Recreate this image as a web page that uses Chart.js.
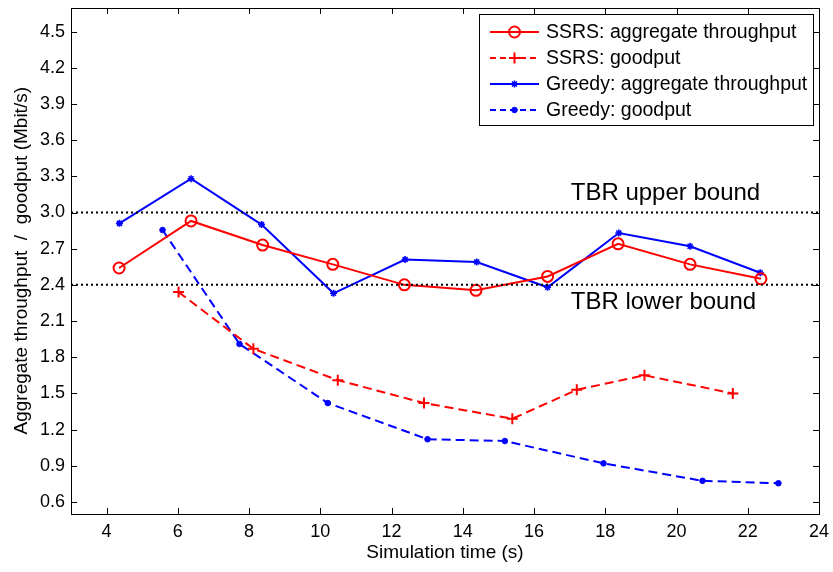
<!DOCTYPE html>
<html>
<head>
<meta charset="utf-8">
<script src="https://cdn.jsdelivr.net/npm/chart.js@4/dist/chart.umd.min.js"></script>
<style>
html,body{margin:0;padding:0;background:#fff;}
#wrap{width:833px;height:572px;position:relative;}
</style>
</head>
<body>
<div id="wrap"><canvas id="c" width="833" height="572"></canvas></div>
<script>
// ---- data ----
const seriesNames = ['SSRS: aggregate throughput', 'SSRS: goodput', 'Greedy: aggregate throughput', 'Greedy: goodput'];
const xSSRSAgg = [4.35, 6.37, 8.38, 10.35, 12.36, 14.37, 16.38, 18.36, 20.38, 22.37];
const ySSRSAgg = [2.54, 2.93, 2.73, 2.57, 2.40, 2.355, 2.47, 2.74, 2.57, 2.45];
const xSSRSGood = [6.02, 8.12, 10.49, 12.91, 15.39, 17.20, 19.10, 21.58];
const ySSRSGood = [2.34, 1.87, 1.61, 1.42, 1.29, 1.53, 1.65, 1.50];
const xGreedyAgg = [4.36, 6.37, 8.35, 10.37, 12.38, 14.39, 16.38, 18.38, 20.38, 22.35];
const yGreedyAgg = [2.91, 3.28, 2.90, 2.33, 2.61, 2.59, 2.38, 2.83, 2.72, 2.50];
const xGreedyGood = [5.57, 7.73, 10.21, 13.01, 15.18, 17.95, 20.73, 22.86];
const yGreedyGood = [2.855, 1.91, 1.42, 1.12, 1.105, 0.92, 0.775, 0.755];
const tbrUpper = 3.0;
const tbrLower = 2.4;
const tbrLabels = ['TBR upper bound', 'TBR lower bound'];
const xTicks = [4, 6, 8, 10, 12, 14, 16, 18, 20, 22, 24];
const yTicks = [0.6, 0.9, 1.2, 1.5, 1.8, 2.1, 2.4, 2.7, 3.0, 3.3, 3.6, 3.9, 4.2, 4.5];
const xRange = [3, 24];
const yRange = [0.5, 4.7];
const xTitle = 'Simulation time (s)';
const yTitle = 'Aggregate throughput  /  goodput (Mbit/s)';

const pts = (xs, ys) => xs.map((x, i) => ({x: x, y: ys[i]}));
const FONT = '"Liberation Sans", Arial, sans-serif';
const RED = '#ff0000', BLUE = '#0000ff';

const styles = [
  {color: RED, dash: [], marker: 'circle', r: 5.5, fill: false, mw: 2},
  {color: RED, dash: [9, 5], marker: 'cross', r: 5.5, fill: false, mw: 2},
  {color: BLUE, dash: [], marker: 'star', r: 3.5, fill: false, mw: 1.6},
  {color: BLUE, dash: [9, 5], marker: 'circle', r: 2.8, fill: true, mw: 1}
];
const seriesData = [pts(xSSRSAgg, ySSRSAgg), pts(xSSRSGood, ySSRSGood), pts(xGreedyAgg, yGreedyAgg), pts(xGreedyGood, yGreedyGood)];

const datasets = [];
[tbrUpper, tbrLower].forEach((v, i) => {
  datasets.push({
    label: tbrLabels[i],
    data: [{x: xRange[0], y: v}, {x: xRange[1], y: v}],
    borderColor: '#000', borderWidth: 2, borderDash: [2, 3],
    pointRadius: 0, pointHoverRadius: 0, fill: false, tension: 0
  });
});
seriesData.forEach((d, i) => {
  const s = styles[i];
  datasets.push({
    label: seriesNames[i],
    data: d,
    borderColor: s.color, borderWidth: 2, borderDash: s.dash,
    pointStyle: s.marker, pointRadius: s.r, pointHoverRadius: s.r,
    pointBorderColor: s.color, pointBorderWidth: s.mw,
    pointBackgroundColor: s.fill ? s.color : 'rgba(0,0,0,0)',
    fill: false, tension: 0
  });
});

function drawMarker(ctx, s, x, y) {
  ctx.save();
  ctx.setLineDash([]);
  ctx.strokeStyle = s.color; ctx.fillStyle = s.color; ctx.lineWidth = s.mw;
  const r = s.r;
  ctx.beginPath();
  if (s.marker === 'circle') {
    ctx.arc(x, y, r, 0, Math.PI * 2);
    if (s.fill) ctx.fill();
    ctx.stroke();
  } else if (s.marker === 'cross') {
    ctx.moveTo(x - r, y); ctx.lineTo(x + r, y);
    ctx.moveTo(x, y - r); ctx.lineTo(x, y + r);
    ctx.stroke();
  } else if (s.marker === 'star') {
    ctx.moveTo(x - r, y); ctx.lineTo(x + r, y);
    ctx.moveTo(x, y - r); ctx.lineTo(x, y + r);
    const d = r * 0.7071;
    ctx.moveTo(x - d, y - d); ctx.lineTo(x + d, y + d);
    ctx.moveTo(x - d, y + d); ctx.lineTo(x + d, y - d);
    ctx.stroke();
  }
  ctx.restore();
}

const framePlugin = {
  id: 'frame',
  afterDatasetsDraw(chart) {
    const ctx = chart.ctx;
    const xs = chart.scales.x, ys = chart.scales.y;
    const L = Math.round(xs.getPixelForValue(xRange[0])), R = Math.round(xs.getPixelForValue(xRange[1]));
    const T = Math.round(ys.getPixelForValue(yRange[1])), B = Math.round(ys.getPixelForValue(yRange[0]));
    ctx.save();
    ctx.strokeStyle = '#000'; ctx.lineWidth = 1; ctx.setLineDash([]);
    ctx.strokeRect(L + 0.5, T + 0.5, R - L, B - T);
    const tl = 6;
    ctx.beginPath();
    xTicks.forEach(v => {
      const px = Math.round(xs.getPixelForValue(v)) + 0.5;
      ctx.moveTo(px, B); ctx.lineTo(px, B - tl);
      ctx.moveTo(px, T); ctx.lineTo(px, T + tl);
    });
    yTicks.forEach(v => {
      const py = Math.round(ys.getPixelForValue(v)) + 0.5;
      ctx.moveTo(L, py); ctx.lineTo(L + tl, py);
      ctx.moveTo(R, py); ctx.lineTo(R - tl, py);
    });
    ctx.stroke();
    ctx.fillStyle = '#000';
    ctx.font = '24px ' + FONT;
    ctx.textAlign = 'left'; ctx.textBaseline = 'middle';
    const lx = xs.getPixelForValue(17.03);
    ctx.fillText(tbrLabels[0], lx, ys.getPixelForValue(tbrUpper) - 19);
    ctx.fillText(tbrLabels[1], lx, ys.getPixelForValue(tbrLower) + 18);
    ctx.restore();
  },
  afterDraw(chart) {
    const ctx = chart.ctx;
    const bx = 479.5, by = 14.5, bw = 334, bh = 111;
    ctx.save();
    ctx.fillStyle = '#fff';
    ctx.fillRect(bx, by, bw, bh);
    ctx.strokeStyle = '#000'; ctx.lineWidth = 1;
    ctx.strokeRect(bx, by, bw, bh);
    const rows = [32, 58, 84, 110];
    ctx.font = '19.5px ' + FONT;
    ctx.textAlign = 'left'; ctx.textBaseline = 'middle';
    seriesNames.forEach((name, i) => {
      const s = styles[i], y = rows[i];
      ctx.save();
      ctx.strokeStyle = s.color; ctx.lineWidth = 2;
      ctx.setLineDash(s.dash.length ? [6, 4] : []);
      ctx.beginPath(); ctx.moveTo(490, y); ctx.lineTo(539, y); ctx.stroke();
      ctx.restore();
      drawMarker(ctx, s, 514.5, y);
      ctx.fillStyle = '#000';
      ctx.fillText(name, 546, y + 1);
    });
    ctx.restore();
  }
};

function zeroPad(s) { s.paddingTop = 0; s.paddingBottom = 0; s.paddingLeft = 0; s.paddingRight = 0; }

new Chart(document.getElementById('c'), {
  type: 'line',
  data: {datasets: datasets},
  options: {
    responsive: false,
    animation: false,
    events: [],
    layout: {padding: {left: 0, top: 6, right: 14, bottom: 0}},
    plugins: {legend: {display: false}, tooltip: {enabled: false}},
    scales: {
      x: {
        type: 'linear', min: xRange[0], max: xRange[1],
        grid: {display: false, drawTicks: false}, border: {display: false},
        afterBuildTicks: s => { s.ticks = xTicks.map(v => ({value: v})); },
        afterFit: s => { s.height = 58; zeroPad(s); },
        ticks: {color: '#000', font: {family: FONT, size: 18}, padding: 7, maxRotation: 0,
                callback: v => String(v)},
        title: {display: true, text: xTitle, color: '#000', font: {family: FONT, size: 19}, padding: {top: 0, bottom: 8}}
      },
      y: {
        type: 'linear', min: yRange[0], max: yRange[1],
        grid: {display: false, drawTicks: false}, border: {display: false},
        afterBuildTicks: s => { s.ticks = yTicks.map(v => ({value: v})); },
        afterFit: s => { s.width = 71; zeroPad(s); },
        ticks: {color: '#000', font: {family: FONT, size: 18}, padding: 6,
                callback: v => Number(v).toFixed(1)},
        title: {display: true, text: yTitle, color: '#000', font: {family: FONT, size: 19}, padding: {top: 10, bottom: 0}}
      }
    }
  },
  plugins: [framePlugin]
});
</script>
</body>
</html>
